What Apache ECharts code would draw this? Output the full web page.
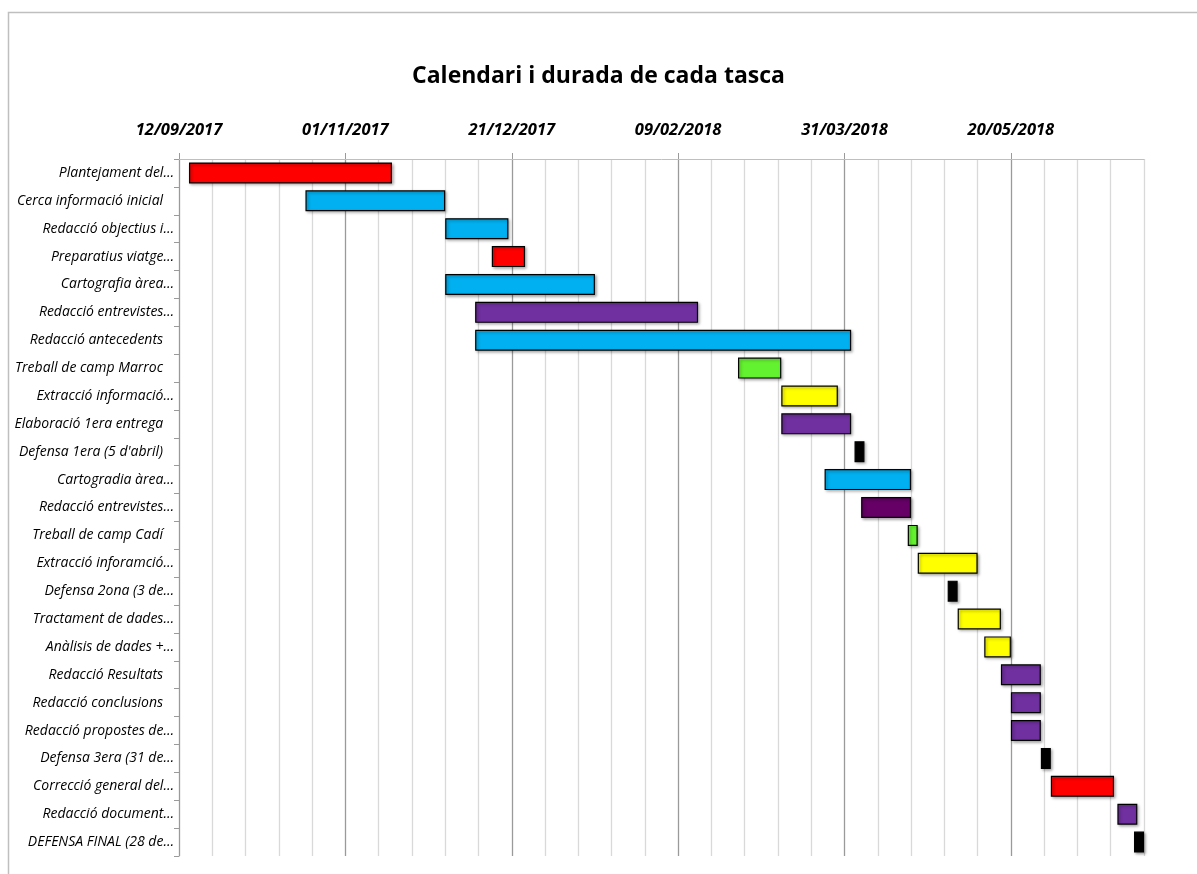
<!DOCTYPE html>
<html>
<head>
<meta charset="utf-8">
<title>Calendari i durada de cada tasca</title>
<script src="https://cdn.jsdelivr.net/npm/echarts@6/dist/echarts.min.js"></script>
<style>
  html, body { margin: 0; padding: 0; background: #fff; }
  #gantt { width: 1197px; height: 874px; }
</style>
</head>
<body>
<div id="gantt"></div>
<script>
  // tasques (de dalt a baix)
  var tasks = [
    'Plantejament del…', 'Cerca informació inicial   ', 'Redacció objectius i…', 'Preparatius viatge…',
    'Cartografia àrea…', 'Redacció entrevistes…', 'Redacció antecedents   ', 'Treball de camp Marroc   ',
    'Extracció informació…', 'Elaboració 1era entrega   ', "Defensa 1era (5 d'abril)   ", 'Cartogradia àrea…',
    'Redacció entrevistes…', 'Treball de camp Cadí   ', 'Extracció inforamció…', 'Defensa 2ona (3 de…',
    'Tractament de dades…', 'Anàlisis de dades +…', 'Redacció Resultats   ', 'Redacció conclusions   ',
    'Redacció propostes de…', 'Defensa 3era (31 de…', 'Correcció general del…', 'Redacció document…',
    'DEFENSA FINAL (28 de…'
  ];
  // data d'inici de cada tasca
  var startDates = [
    '2017-09-15', '2017-10-20', '2017-12-01', '2017-12-15',
    '2017-12-01', '2017-12-10', '2017-12-10', '2018-02-27',
    '2018-03-12', '2018-03-12', '2018-04-03', '2018-03-25',
    '2018-04-05', '2018-04-19', '2018-04-22', '2018-05-01',
    '2018-05-04', '2018-05-12', '2018-05-17', '2018-05-20',
    '2018-05-20', '2018-05-29', '2018-06-01', '2018-06-21',
    '2018-06-26'
  ];
  // durada en dies
  var durations = [
    61, 42, 19, 10,
    45, 67, 113, 13,
    17, 21, 3, 26,
    15, 3, 18, 3,
    13, 8, 12, 9,
    9, 3, 19, 6,
    3
  ];
  var taskColors = [
    '#FF0000', '#00B0F0', '#00B0F0', '#FF0000',
    '#00B0F0', '#7030A0', '#00B0F0', '#63F22F',
    '#FFFF00', '#7030A0', '#000000', '#00B0F0',
    '#660066', '#63F22F', '#FFFF00', '#000000',
    '#FFFF00', '#FFFF00', '#7030A0', '#7030A0',
    '#7030A0', '#000000', '#FF0000', '#7030A0',
    '#000000'
  ];
  // eix de dates: inici, final i marques principals (cada 50 dies)
  var axisStart = '2017-09-12';
  var axisEnd = '2018-06-29';
  var tickLabels = ['12/09/2017', '01/11/2017', '21/12/2017', '09/02/2018', '31/03/2018', '20/05/2018'];

  var DAY = 86400000;
  function toTime(s) {
    var p = s.split('-');
    return Date.UTC(+p[0], +p[1] - 1, +p[2]);
  }
  function fmt(v) {
    var d = new Date(toTime(axisStart) + v * DAY);
    var dd = ('0' + d.getUTCDate()).slice(-2);
    var mm = ('0' + (d.getUTCMonth() + 1)).slice(-2);
    return dd + '/' + mm + '/' + d.getUTCFullYear();
  }
  var t0 = toTime(axisStart);
  var maxDay = Math.round((toTime(axisEnd) - t0) / DAY);
  var offsets = startDates.map(function (s) { return Math.round((toTime(s) - t0) / DAY); });
  var majorValues = tickLabels.map(function (l) {
    var p = l.split('/');
    return Math.round((Date.UTC(+p[2], +p[1] - 1, +p[0]) - t0) / DAY);
  });

  var chart = echarts.init(document.getElementById('gantt'));
  chart.setOption({
    animation: false,
    title: {
      text: 'Calendari i durada de cada tasca',
      left: 'center',
      top: 60,
      textStyle: {
        fontFamily: 'Open Sans',
        fontSize: 23,
        fontWeight: 'bold',
        color: '#000'
      }
    },
    graphic: [{
      type: 'rect',
      silent: true,
      shape: { x: 8.5, y: 12.5, width: 1300, height: 1000 },
      style: { fill: 'none', stroke: '#bfbfbf', lineWidth: 1.5 }
    }],
    grid: {
      left: 179,
      right: 53,
      top: 159,
      bottom: 18,
      containLabel: false
    },
    xAxis: [{
      type: 'value',
      position: 'top',
      min: 0,
      max: maxDay,
      interval: 10,
      axisLine: { show: true, lineStyle: { color: '#bfbfbf', width: 1 } },
      axisTick: { show: false },
      axisLabel: { show: false },
      splitLine: {
        show: true,
        lineStyle: {
          color: ['#9a9a9a', '#d9d9d9', '#d9d9d9', '#d9d9d9', '#d9d9d9'],
          width: 1.3
        }
      }
    }, {
      type: 'value',
      position: 'top',
      min: 0,
      max: maxDay,
      interval: 50,
      axisLine: { show: false },
      axisTick: {
        show: true,
        length: 6,
        customValues: majorValues,
        lineStyle: { color: '#9a9a9a' }
      },
      axisLabel: {
        customValues: majorValues,
        margin: 20,
        formatter: fmt,
        fontFamily: 'Open Sans',
        fontSize: 16.5,
        fontWeight: 'bold',
        fontStyle: 'italic',
        color: '#000'
      },
      splitLine: { show: false }
    }],
    yAxis: {
      type: 'category',
      inverse: true,
      data: tasks,
      axisLine: { show: true, lineStyle: { color: '#9a9a9a' } },
      axisTick: { show: true, length: 5, lineStyle: { color: '#9a9a9a' } },
      axisLabel: {
        margin: 5,
        fontFamily: 'Open Sans',
        fontSize: 14,
        fontStyle: 'italic',
        color: '#000'
      },
      splitLine: { show: false }
    },
    series: [{
      name: 'inici',
      type: 'bar',
      stack: 'gantt',
      xAxisIndex: 0,
      barWidth: 21,
      silent: true,
      itemStyle: { color: 'transparent' },
      data: offsets
    }, {
      name: 'durada',
      type: 'bar',
      stack: 'gantt',
      xAxisIndex: 0,
      barWidth: 21,
      itemStyle: {
        borderColor: '#000',
        borderWidth: 1.2,
        shadowColor: 'rgba(0,0,0,0.35)',
        shadowBlur: 3,
        shadowOffsetX: 1.5,
        shadowOffsetY: 1.5
      },
      data: durations.map(function (d, i) {
        return { value: d, itemStyle: { color: taskColors[i] } };
      })
    }]
  });
</script>
</body>
</html>
